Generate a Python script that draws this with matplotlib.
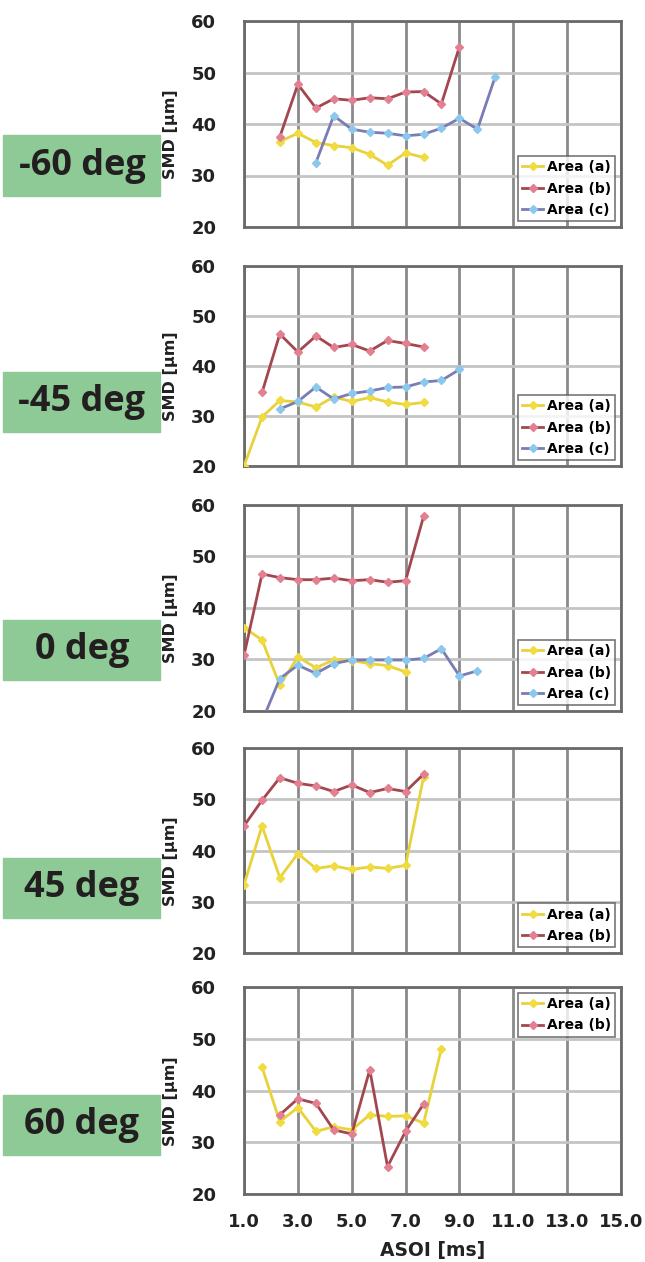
import numpy as np
import matplotlib
matplotlib.use("Agg")
import matplotlib.pyplot as plt

# ASOI steps [ms]
asoi = [1.0, 1.67, 2.33, 3.0, 3.67, 4.33, 5.0, 5.67, 6.33, 7.0, 7.67, 8.33, 9.0, 9.67, 10.33]

panels = ["-60 deg", "-45 deg", "0 deg", "45 deg", "60 deg"]

# SMD [um], (start index into asoi, values)
m60_a = (2, [36.6, 38.2, 36.4, 35.8, 35.4, 34.1, 32.0, 34.4, 33.5])
m60_b = (2, [37.5, 47.7, 43.1, 44.9, 44.6, 45.1, 44.9, 46.2, 46.3, 43.9, 55.0])
m60_c = (4, [32.5, 41.6, 39.0, 38.4, 38.2, 37.7, 38.0, 39.2, 41.1, 39.0, 49.2])

m45_a = (0, [20.0, 29.8, 33.1, 32.8, 31.8, 33.8, 32.9, 33.7, 32.8, 32.3, 32.7])
m45_b = (1, [34.7, 46.4, 42.8, 46.0, 43.7, 44.3, 43.0, 45.1, 44.5, 43.8])
m45_c = (2, [31.4, 32.9, 35.8, 33.4, 34.5, 35.0, 35.7, 35.8, 36.8, 37.1, 39.3])

z0_a = (0, [36.2, 33.8, 25.0, 30.5, 28.4, 29.9, 29.8, 29.2, 28.8, 27.6])
z0_b = (0, [30.8, 46.6, 45.9, 45.5, 45.5, 45.8, 45.3, 45.5, 45.0, 45.3, 57.8])
z0_c = (1, [18.0, 26.3, 28.9, 27.3, 29.2, 29.9, 29.9, 29.9, 29.9, 30.2, 32.1, 26.8, 27.8])

p45_a = (0, [33.3, 44.8, 34.7, 39.4, 36.5, 37.0, 36.3, 36.8, 36.5, 37.1, 54.4])
p45_b = (0, [44.8, 49.8, 54.2, 53.1, 52.6, 51.5, 52.8, 51.3, 52.1, 51.5, 54.9])

p60_a = (1, [44.5, 34.0, 36.7, 32.1, 33.0, 32.4, 35.3, 35.0, 35.1, 33.7, 48.1])
p60_b = (2, [35.3, 38.4, 37.5, 32.4, 31.6, 44.0, 25.3, 32.1, 37.4])

data = [
    [m60_a, m60_b, m60_c],
    [m45_a, m45_b, m45_c],
    [z0_a, z0_b, z0_c],
    [p45_a, p45_b],
    [p60_a, p60_b],
]
names = ["Area (a)", "Area (b)", "Area (c)"]
line_col = ["#e8d23c", "#a3474f", "#7a7cb4"]
mark_col = ["#f0dc40", "#e27f90", "#8cc8ee"]

W, H = 645, 1262
fig = plt.figure(figsize=(W / 100, H / 100), dpi=100)

tops = [21, 266, 505, 748, 987]
bottoms = [227, 466, 711, 953, 1194]
boxes = [(135, 196), (372, 432), (620, 680), (858, 918), (1095, 1155)]
ax_l, ax_r = 244, 621

for i in range(5):
    ax = fig.add_axes([ax_l / W, 1 - bottoms[i] / H, (ax_r - ax_l) / W, (bottoms[i] - tops[i]) / H])
    for j, (start, vals) in enumerate(data[i]):
        xs = asoi[start:start + len(vals)]
        ax.plot(xs, vals, color=line_col[j], lw=2, marker="D", ms=4,
                mfc=mark_col[j], mec=mark_col[j], label=names[j], zorder=3)
    ax.set_xlim(1, 15)
    ax.set_ylim(20, 60)
    ax.set_xticks(np.arange(1, 16, 2))
    ax.set_yticks([20, 30, 40, 50, 60])
    ax.grid(axis="x", color="#8a8a8a", lw=2)
    ax.grid(axis="y", color="#c4c4c4", lw=2)
    ax.set_axisbelow(True)
    for s in ax.spines.values():
        s.set_color("#6a6a6a")
        s.set_linewidth(2)
    ax.tick_params(length=0, pad=20, labelsize=13)
    for t in ax.get_yticklabels():
        t.set_fontweight("bold")
        t.set_color("#222222")
    ax.set_ylabel("SMD [µm]", fontsize=11.5, fontweight="bold", color="#222222")
    ax.yaxis.set_label_coords(-0.175, 0.45)
    if i == 4:
        ax.set_xticklabels(["%.1f" % v for v in np.arange(1, 16, 2)], fontweight="bold", color="#222222")
        ax.tick_params(axis="x", pad=14)
        ax.set_xlabel("ASOI [ms]", fontsize=13.5, fontweight="bold", color="#222222", labelpad=7)
        loc = "upper right"
    else:
        ax.set_xticklabels([])
        loc = "lower right"
    leg = ax.legend(loc=loc, prop={"weight": "bold", "size": 10},
                    frameon=True, fancybox=False, edgecolor="#555555", borderpad=0.3,
                    handlelength=1.5, handletextpad=0.3, labelspacing=0.55,
                    borderaxespad=0.4)
    leg.get_frame().set_linewidth(1.2)

    # green label box
    y0, y1 = boxes[i]
    fig.patches.append(plt.Rectangle((3 / W, 1 - y1 / H), 157 / W, (y1 - y0) / H,
                                     transform=fig.transFigure, color="#8dca95", zorder=0))
    fig.text(82 / W, 1 - (y0 + y1) / 2 / H, panels[i], ha="center", va="center",
             fontsize=26, fontweight="bold", family="Open Sans", color="#231f20")

fig.savefig("out.png", dpi=100)
